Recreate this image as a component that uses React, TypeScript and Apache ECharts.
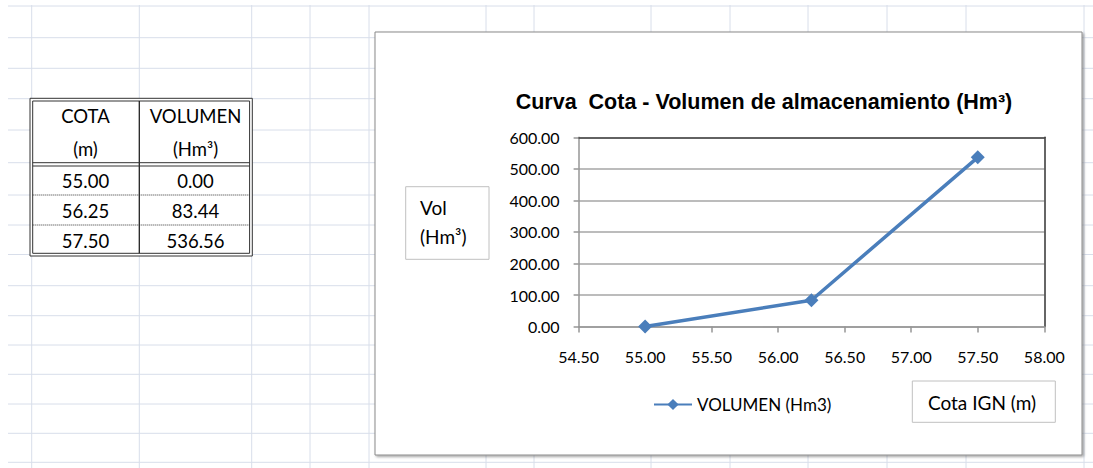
import React, { useEffect, useRef } from "react";
import * as echarts from "echarts";

// ---- data ----
const cota: number[] = [55.0, 56.25, 57.5];
const volumen: number[] = [0.0, 83.44, 536.56];
const seriesName = "VOLUMEN (Hm3)";
const chartTitle = "Curva  Cota - Volumen de almacenamiento (Hm³)";
const yAxisLabelLines = ["Vol", "(Hm³)"];
const xAxisLabel = "Cota IGN (m)";
const tableHead1 = ["COTA", "VOLUMEN"];
const tableHead2 = ["(m)", "(Hm³)"];
const xMin = 54.5, xMax = 58.0, xStep = 0.5;
const yMin = 0, yMax = 600, yStep = 100;

// ---- layout (spreadsheet backdrop) ----
const sheetRows = [6, 37.7, 68.3, 98.7, 130, 162.7, 195, 225, 254.5, 285.7, 315.7, 345, 374.3, 404, 433.3, 462.3];
const sheetCols = [31.7, 139.3, 251.7, 310, 369, 486, 534, 651, 730, 808, 887, 966, 1084];
const CAL = "Lato, 'Open Sans', sans-serif";

export default function App() {
  const ref = useRef<HTMLDivElement>(null);
  useEffect(() => {
    if (!ref.current) return;
    const chart = echarts.init(ref.current, undefined, { renderer: "svg" });
    const g: any[] = [];
    const gridColor = "#d8deea";
    sheetRows.forEach((y) =>
      g.push({ type: "line", z: -5, shape: { x1: 8, y1: y, x2: 1093, y2: y }, style: { stroke: gridColor, lineWidth: 1 } })
    );
    sheetCols.forEach((x) =>
      g.push({ type: "line", z: -5, shape: { x1: x, y1: 5, x2: x, y2: 468 }, style: { stroke: gridColor, lineWidth: 1 } })
    );
    // table
    const tL = 30, tR = 252.3, tT = 98.3, tB = 256, d = 2.7;
    g.push({ type: "rect", z: -4, shape: { x: tL, y: tT, width: tR - tL, height: tB - tT }, style: { fill: "#fff", stroke: "#333", lineWidth: 1 } });
    g.push({ type: "rect", z: -3, shape: { x: tL + d, y: tT + d, width: tR - tL - 2 * d, height: tB - tT - 2 * d }, style: { fill: "none", stroke: "#333", lineWidth: 1 } });
    g.push({ type: "line", z: -3, shape: { x1: 139.3, y1: tT + d, x2: 139.3, y2: tB - d }, style: { stroke: "#222", lineWidth: 1.3 } });
    g.push({ type: "line", z: -3, shape: { x1: tL + d, y1: 162.7, x2: tR - d, y2: 162.7 }, style: { stroke: "#333", lineWidth: 1 } });
    g.push({ type: "line", z: -3, shape: { x1: tL + d, y1: 166, x2: tR - d, y2: 166 }, style: { stroke: "#333", lineWidth: 1 } });
    [195, 225].forEach((y) =>
      g.push({ type: "line", z: -3, shape: { x1: tL + d, y1: y, x2: tR - d, y2: y }, style: { stroke: "#333", lineWidth: 1, lineDash: [1, 1] } })
    );
    const colCx = [85.5, 195.5];
    const tStyle = (text: string, x: number, y: number) => ({
      type: "text", z: -2, x, y,
      style: { text, fill: "#000", font: `18.5px ${CAL}`, align: "center", verticalAlign: "middle" },
    });
    tableHead1.forEach((t, i) => g.push(tStyle(t, colCx[i], 116)));
    tableHead2.forEach((t, i) => g.push(tStyle(t, colCx[i], 149)));
    const rowCy = [180.7, 210.7, 240.7];
    cota.forEach((v, i) => g.push(tStyle(v.toFixed(2), colCx[0], rowCy[i])));
    volumen.forEach((v, i) => g.push(tStyle(v.toFixed(2), colCx[1], rowCy[i])));
    // chart frame
    g.push({
      type: "rect", z: -4, shape: { x: 375, y: 32, width: 707, height: 423 },
      style: { fill: "#fff", stroke: "#8a8a8a", lineWidth: 1, shadowBlur: 2, shadowOffsetX: 1.5, shadowOffsetY: 1.5, shadowColor: "rgba(0,0,0,0.35)" },
    });
    // title
    g.push({
      type: "text", z: -2, x: 764, y: 102,
      style: { text: chartTitle, fill: "#000", font: "bold 21.5px 'Liberation Sans', Arial, sans-serif", align: "center", verticalAlign: "middle" },
    });
    // y-axis name box
    g.push({ type: "rect", z: -3, shape: { x: 405.7, y: 186.7, width: 83.3, height: 72.6 }, style: { fill: "#fff", stroke: "#c0c0c0", lineWidth: 1 } });
    g.push({ type: "text", z: -2, x: 420, y: 207, style: { text: yAxisLabelLines[0], fill: "#000", font: `19px ${CAL}`, align: "left", verticalAlign: "middle" } });
    g.push({ type: "text", z: -2, x: 420, y: 236, style: { text: yAxisLabelLines[1], fill: "#000", font: `19px ${CAL}`, align: "left", verticalAlign: "middle" } });
    // x-axis name box
    g.push({ type: "rect", z: -3, shape: { x: 912.3, y: 381, width: 143, height: 41.3 }, style: { fill: "#fff", stroke: "#c0c0c0", lineWidth: 1 } });
    g.push({ type: "text", z: -2, x: 982, y: 402, style: { text: xAxisLabel, fill: "#000", font: `19px ${CAL}`, align: "center", verticalAlign: "middle" } });

    const fmt = (v: number) => v.toFixed(2);
    const option: any = {
      animation: false,
      backgroundColor: "transparent",
      graphic: { elements: g },
      grid: { left: 578.6, top: 137.3, width: 465.7, height: 189.3, show: false },
      legend: {
        left: 653, top: 396, padding: 0, itemWidth: 38, itemHeight: 14, data: [seriesName],
        textStyle: { fontFamily: CAL, fontSize: 17, color: "#000" },
      },
      xAxis: [
        {
          type: "value", min: xMin, max: xMax, interval: xStep,
          axisLine: { show: true, onZero: false, lineStyle: { color: "#969696", width: 1.5 } },
          axisTick: { show: true, length: 6, lineStyle: { color: "#969696", width: 1.5 } },
          axisLabel: { formatter: fmt, margin: 22, color: "#000", fontFamily: CAL, fontSize: 16 },
          splitLine: { show: false },
        },
        {
          type: "value", position: "top", min: xMin, max: xMax, interval: xStep,
          axisLine: { show: true, onZero: false, lineStyle: { color: "#444", width: 1.5 } },
          axisTick: { show: false }, axisLabel: { show: false }, splitLine: { show: false },
        },
      ],
      yAxis: [
        {
          type: "value", min: yMin, max: yMax, interval: yStep,
          axisLine: { show: true, onZero: false, lineStyle: { color: "#969696", width: 1.5 } },
          axisTick: { show: true, length: 5, lineStyle: { color: "#969696", width: 1.5 } },
          axisLabel: { formatter: fmt, margin: 19, color: "#000", fontFamily: CAL, fontSize: 16 },
          splitLine: { show: true, lineStyle: { color: "#a6a6a6", width: 1.5 } },
        },
        {
          type: "value", position: "right", min: yMin, max: yMax, interval: yStep,
          axisLine: { show: true, onZero: false, lineStyle: { color: "#333", width: 1.5 } },
          axisTick: { show: false }, axisLabel: { show: false }, splitLine: { show: false },
        },
      ],
      series: [
        {
          name: seriesName, type: "line", xAxisIndex: 0, yAxisIndex: 0,
          data: cota.map((c, i) => [c, volumen[i]]),
          symbol: "diamond", symbolSize: 14,
          lineStyle: { color: "#4a7ebb", width: 3.5 },
          itemStyle: { color: "#4a7ebb" },
        },
      ],
    };
    chart.setOption(option);
    return () => chart.dispose();
  }, []);
  return (
    <div style={{ position: "fixed", left: 0, top: 0, width: 1093, height: 468, background: "#fff" }}>
      <div ref={ref} style={{ width: 1093, height: 468 }} />
    </div>
  );
}
